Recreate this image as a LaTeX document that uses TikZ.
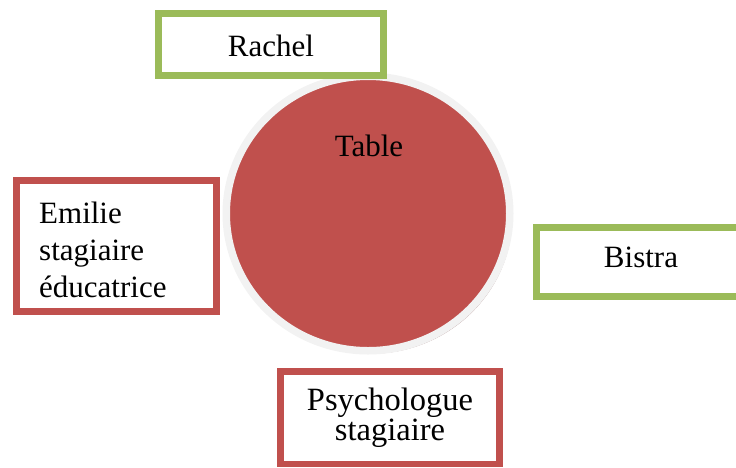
\documentclass[tikz,border=0pt]{standalone}
\usepackage{fontspec}
\setmainfont{Liberation Serif}
\usetikzlibrary{shapes.geometric}
\definecolor{tred}{HTML}{C0504D}
\definecolor{tgreen}{HTML}{9BBB59}
\definecolor{ringgrey}{HTML}{F2F2F2}
\definecolor{shadowc}{HTML}{B39494}
\begin{document}
\begin{tikzpicture}[x=1pt,y=-1pt,
  boxbase/.style={rectangle, line width=6.5pt, fill=white, inner sep=0pt},
  greenbox/.style={boxbase, draw=tgreen},
  redbox/.style={boxbase, draw=tred},
  lbl/.style={font=\fontsize{31}{37}\selectfont, inner sep=0pt, text=black},
  disc/.style={ellipse, inner sep=0pt, minimum width=283.5pt, minimum height=274.5pt, line width=7.5pt}]
\path[use as bounding box, clip] (0,0) rectangle (736,467);
% table
\node[disc, fill=shadowc] (tableshadow) at (370.5,216.5) {};
\node[disc, fill=tred, draw=ringgrey] (table) at (368,213.5) {};
\node[lbl, anchor=base] (tablelbl) at (369,156) {Table};
% boxes
\node[greenbox, minimum width=225pt, minimum height=62pt] (rachel) at (271,44.5) {};
\node[lbl, anchor=base] (racheltxt) at (271,56) {Rachel};
\node[redbox, minimum width=200pt, minimum height=131pt] (emilie) at (116.5,246) {};
\node[lbl, anchor=base west, align=left] (emilietxt) at (39,297) {Emilie\\stagiaire\\éducatrice};
\node[greenbox, minimum width=209pt, minimum height=69pt] (bistra) at (641,262) {};
\node[lbl, anchor=base] (bistratxt) at (641,267) {Bistra};
\node[redbox, minimum width=219pt, minimum height=92.5pt] (psy) at (390,417.75) {};
\node[lbl, font=\fontsize{32.5}{30}\selectfont, anchor=base, align=center] (psytxt) at (390,440) {Psychologue\\stagiaire};
\end{tikzpicture}
\end{document}
